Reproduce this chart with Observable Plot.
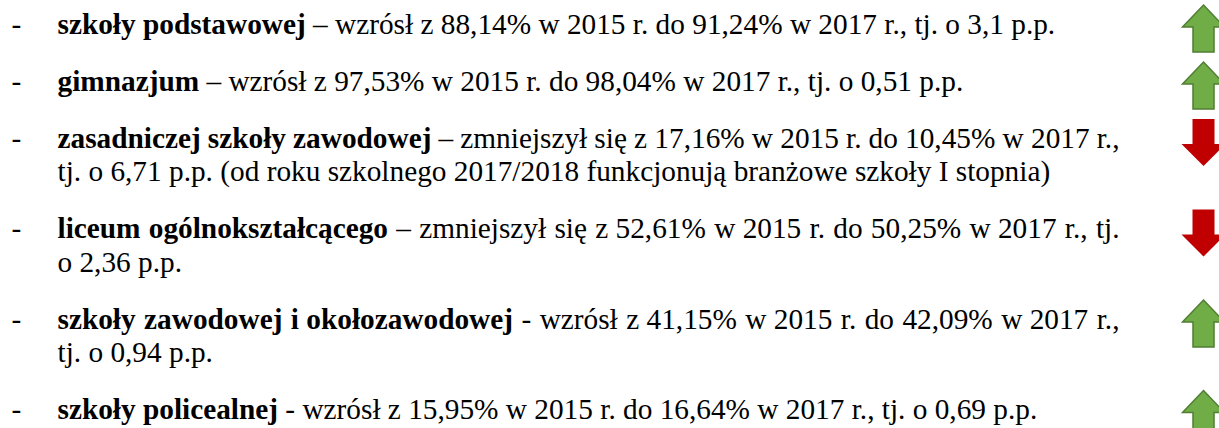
<!DOCTYPE html>
<html>
<head>
<meta charset="utf-8">
<script src="https://cdn.jsdelivr.net/npm/d3@7"></script>
<script src="https://cdn.jsdelivr.net/npm/@observablehq/plot@0.6"></script>
<style>
  html, body { margin: 0; padding: 0; background: #fff; }
</style>
</head>
<body>
<div id="chart"></div>
<script>
// ---- data ----
const categories = [
  "szkoły podstawowej",
  "gimnazjum",
  "zasadniczej szkoły zawodowej",
  "liceum ogólnokształcącego",
  "szkoły zawodowej i okołozawodowej",
  "szkoły policealnej"
];
const share2015 = [88.14, 97.53, 17.16, 52.61, 41.15, 15.95];
const share2017 = [91.24, 98.04, 10.45, 50.25, 42.09, 16.64];
const changePP  = [3.1, 0.51, 6.71, 2.36, 0.94, 0.69];
const separators = ["–", "–", "–", "–", "-", "-"];
const notes = ["", "", "(od roku szkolnego 2017/2018 funkcjonują branżowe szkoły I stopnia)", "", "", ""];
const years = [2015, 2017];

// ---- layout / style ----
const W = 1219, H = 428;
const FONT = '"Liberation Serif", "Times New Roman", serif';
const FS = 29.3;
const DASH_X = 11, TEXT_X = 57, RIGHT = 1119, ARROW_X = 1203;
const WRAP_TOL = 12;
const FIRST = 33, LINE_H = 33.5, PARA = 57;

const fmt = v => String(v).replace(".", ",");
const nb = s => s.replace(/(^|\s)(\p{L})\s/gu, "$1$2\u00a0");
const ctx = document.createElement("canvas").getContext("2d");
const measure = (s, bold) => { ctx.font = `${bold ? "bold " : ""}${FS}px ${FONT}`; return ctx.measureText(s).width; };

const words = [], dashes = [], arrows = [];
let y = FIRST;
categories.forEach((name, i) => {
  const up = share2017[i] > share2015[i];
  const verb = up ? "wzrósł" : "zmniejszył się";
  const sentence = `${separators[i]} ${verb} z ${fmt(share2015[i])}% w ${years[0]} r. do ${fmt(share2017[i])}% w ${years[1]} r., tj. o ${fmt(changePP[i])} p.p.` + (notes[i] ? " " + notes[i] : "");
  const tokens = [
    ...nb(name).split(" ").map(t => ({t, bold: true})),
    ...nb(sentence).split(" ").map(t => ({t, bold: false}))
  ];
  tokens.forEach(k => k.w = measure(k.t, k.bold));
  const maxW = RIGHT - TEXT_X;
  const sp = measure(" ", false);
  const lines = [];
  let cur = [], curW = 0;
  for (const k of tokens) {
    const add = cur.length ? sp + k.w : k.w;
    if (cur.length && curW + add > maxW + WRAP_TOL) { lines.push(cur); cur = [k]; curW = k.w; }
    else { cur.push(k); curW += add; }
  }
  if (cur.length) lines.push(cur);
  dashes.push({x: DASH_X, y});
  arrows.push({x: ARROW_X, y: y - 5, up});
  lines.forEach((line, li) => {
    const last = li === lines.length - 1;
    const sumW = d3.sum(line, k => k.w);
    const jgap = line.length > 1 ? (maxW - sumW) / (line.length - 1) : 0;
    let x = TEXT_X;
    line.forEach((k, j) => {
      if (j > 0) x += last ? measure(" ", line[j - 1].bold && k.bold) : jgap;
      words.push({x, y, text: k.t, bold: k.bold});
      x += k.w;
    });
    if (!last) y += LINE_H;
  });
  y += PARA;
});

// arrow symbols
const upArrow = {draw(c) {
  c.moveTo(0, -23.5); c.lineTo(21, -1.5); c.lineTo(10.5, -1.5); c.lineTo(10.5, 23.5);
  c.lineTo(-10.5, 23.5); c.lineTo(-10.5, -1.5); c.lineTo(-21, -1.5); c.closePath();
}};
const downArrow = {draw(c) {
  c.moveTo(-11, -23.5); c.lineTo(11, -23.5); c.lineTo(11, 1.5); c.lineTo(22, 1.5);
  c.lineTo(0, 23.5); c.lineTo(-22, 1.5); c.lineTo(-11, 1.5); c.closePath();
}};

const textOpts = {x: "x", y: "y", text: "text", textAnchor: "start", lineAnchor: "bottom",
  fontSize: FS, fontFamily: FONT, fill: "#000"};

const chart = Plot.plot({
  width: W, height: H,
  margin: 0,
  x: {domain: [0, W], range: [0, W], axis: null},
  y: {domain: [0, H], range: [0, H], axis: null},
  style: {background: "#fff"},
  marks: [
    Plot.text(dashes, {...textOpts, text: () => "-"}),
    Plot.text(words.filter(d => d.bold), {...textOpts, fontWeight: "bold"}),
    Plot.text(words.filter(d => !d.bold), textOpts),
    Plot.dot(arrows.filter(d => d.up), {x: "x", y: "y", symbol: upArrow, r: 1,
      fill: "#70AD47", stroke: "#507E32", strokeWidth: 1.5}),
    Plot.dot(arrows.filter(d => !d.up), {x: "x", y: "y", symbol: downArrow, r: 1,
      fill: "#C00000", stroke: "none"})
  ]
});
document.getElementById("chart").append(chart);
</script>
</body>
</html>
